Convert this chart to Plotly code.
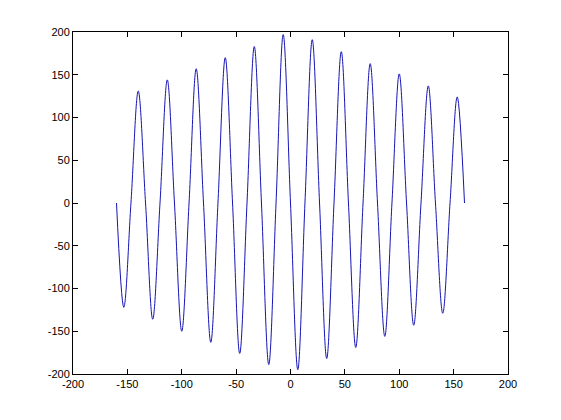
import plotly.graph_objects as go

# Points: zero crossings and extrema of the curve
x_vals = [-160, -153.3, -146.7, -140, -133.3, -126.7, -120, -113.3, -106.7, -100,
          -93.3, -86.7, -80, -73.3, -66.7, -60, -53.3, -46.7, -40, -33.3,
          -26.7, -20, -13.3, -6.7, 0, 6.7, 13.3, 20, 26.7, 33.3,
          40, 46.7, 53.3, 60, 66.7, 73.3, 80, 86.7, 93.3, 100,
          106.7, 113.3, 120, 126.7, 133.3, 140, 146.7, 153.3, 160]
y_vals = [0, -122, 0, 131, 0, -136, 0, 144, 0, -150,
          0, 157, 0, -163, 0, 170, 0, -176, 0, 183,
          0, -189, 0, 197, 0, -195, 0, 191, 0, -182,
          0, 177, 0, -169, 0, 163, 0, -156, 0, 151,
          0, -143, 0, 137, 0, -129, 0, 124, 0]

x_ticks = [-200, -150, -100, -50, 0, 50, 100, 150, 200]
y_ticks = [-200, -150, -100, -50, 0, 50, 100, 150, 200]

fig = go.Figure()
fig.add_trace(go.Scatter(x=x_vals, y=y_vals, mode="lines",
                         line=dict(color="#1414b4", width=1, shape="spline", smoothing=1.0),
                         showlegend=False, hoverinfo="skip"))

axis_common = dict(showgrid=False, zeroline=False, showline=True, linecolor="black",
                   linewidth=1, mirror="ticks", ticks="inside", ticklen=5,
                   tickcolor="black", tickfont=dict(family="Liberation Sans, Arial", size=11, color="black"))

fig.update_layout(
    width=553, height=412,
    margin=dict(l=65, r=53, t=24, b=46),
    paper_bgcolor="white", plot_bgcolor="white",
    xaxis=dict(range=[-200, 200], tickvals=x_ticks, ticktext=[str(v) for v in x_ticks], **axis_common),
    yaxis=dict(range=[-200, 200], tickvals=y_ticks, ticktext=[str(v) for v in y_ticks], **axis_common),
)

fig.write_html("out.html")
